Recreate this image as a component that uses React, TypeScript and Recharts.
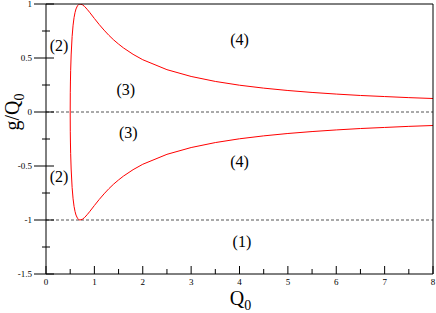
import React from "react";
import { LineChart, Line, XAxis, YAxis, ReferenceLine, ReferenceDot, Label } from "recharts";

// Q0 samples along the red boundary curve
const qValues = [
  0.5, 0.502, 0.505, 0.51, 0.52, 0.54, 0.56, 0.58, 0.6, 0.62, 0.65, 0.68, 0.7, 0.75, 0.8, 0.85, 0.9, 1,
  1.1, 1.2, 1.3, 1.4, 1.5, 1.6, 1.8, 2, 2.5, 3, 3.5, 4, 4.5, 5, 5.5, 6, 6.5, 7, 7.5, 8,
];
// upper branch g/Q0
const gUpper = [
  0, 0.178, 0.278, 0.386, 0.528, 0.699, 0.804, 0.874, 0.921, 0.954, 0.983, 0.997, 1.0, 0.994, 0.976, 0.951,
  0.924, 0.866, 0.81, 0.758, 0.71, 0.667, 0.629, 0.594, 0.534, 0.484, 0.392, 0.329, 0.283, 0.248, 0.221,
  0.199, 0.181, 0.166, 0.153, 0.143, 0.133, 0.125,
];
// lower branch g/Q0
const gLower = [
  0, -0.178, -0.278, -0.386, -0.528, -0.699, -0.804, -0.874, -0.921, -0.954, -0.983, -0.997, -1.0, -0.994,
  -0.976, -0.951, -0.924, -0.866, -0.81, -0.758, -0.71, -0.667, -0.629, -0.594, -0.534, -0.484, -0.392,
  -0.329, -0.283, -0.248, -0.221, -0.199, -0.181, -0.166, -0.153, -0.143, -0.133, -0.125,
];

const xTicks = [0, 0.5, 1, 1.5, 2, 2.5, 3, 3.5, 4, 4.5, 5, 5.5, 6, 6.5, 7, 7.5, 8];
const yTicks = [-1.5, -1.25, -1, -0.75, -0.5, -0.25, 0, 0.25, 0.5, 0.75, 1];
const dashedLevels = [0, -1];

const regionLabels = [
  { text: "(2)", q: 0.27, g: 0.62 },
  { text: "(2)", q: 0.27, g: -0.6 },
  { text: "(3)", q: 1.65, g: 0.21 },
  { text: "(3)", q: 1.7, g: -0.19 },
  { text: "(4)", q: 4.0, g: 0.67 },
  { text: "(4)", q: 4.0, g: -0.46 },
  { text: "(1)", q: 4.05, g: -1.2 },
];

const FONT = '"Liberation Serif", "DejaVu Serif", serif';
const txt = { fontFamily: FONT };

const curve = [
  ...qValues.map((q, i) => ({ q, g: gUpper[i] })).reverse(),
  ...qValues.map((q, i) => ({ q, g: gLower[i] })),
];

const LeftTick = (props: any) => {
  const { x, y, payload } = props;
  const v = payload.value;
  const major = Number.isInteger(v * 2);
  return (
    <g>
      <line x1={x - (major ? 12 : 4)} x2={x + (major ? 8 : 4)} y1={y} y2={y} stroke="#000" />
      {major && (
        <text x={x - 14} y={y + 3} textAnchor="end" fontSize={9} style={txt} fill="#000">
          {v}
        </text>
      )}
    </g>
  );
};

const BottomTick = (props: any) => {
  const { x, y, payload } = props;
  const v = payload.value;
  const major = Number.isInteger(v);
  return (
    <g>
      <line x1={x} x2={x} y1={y} y2={y - (major ? 8 : 5)} stroke="#000" />
      {major && (
        <text x={x} y={y + 11} textAnchor="middle" fontSize={9} style={txt} fill="#000">
          {v}
        </text>
      )}
    </g>
  );
};

const TopTick = (props: any) => {
  const { x, y, payload } = props;
  const major = Number.isInteger(payload.value);
  return <line x1={x} x2={x} y1={y} y2={y + (major ? 8 : 5)} stroke="#000" />;
};

const YTitle = (props: any) => {
  const { x, y, height } = props.viewBox;
  const cx = x + 19;
  const cy = y + height / 2 - 27;
  return (
    <text transform={`rotate(-90 ${cx} ${cy})`} x={cx} y={cy} textAnchor="middle" fontSize={20} style={txt} fill="#000">
      g/Q<tspan fontSize={14} dy={5}>0</tspan>
    </text>
  );
};

const XTitle = (props: any) => {
  const { x, y, width } = props.viewBox;
  return (
    <text x={x + width / 2 + 1} y={y + 31} textAnchor="middle" fontSize={20} style={txt} fill="#000">
      Q<tspan fontSize={14} dy={5}>0</tspan>
    </text>
  );
};

export default function App() {
  return (
    <div style={{ position: "absolute", left: 0, top: 0, width: 436, height: 313, background: "#fff" }}>
      <LineChart width={436} height={313} margin={{ top: 0, right: 0, bottom: 0, left: 0 }}>
        <XAxis
          xAxisId="bottom"
          dataKey="q"
          type="number"
          domain={[0, 8]}
          ticks={xTicks}
          interval={0}
          height={39}
          tickSize={0}
          tickMargin={0}
          tickLine={false}
          tick={<BottomTick />}
          axisLine={{ stroke: "#000" }}
          allowDataOverflow
        >
          <Label content={<XTitle />} />
        </XAxis>
        <XAxis
          xAxisId="top"
          orientation="top"
          type="number"
          domain={[0, 8]}
          ticks={xTicks}
          interval={0}
          height={4}
          tickSize={0}
          tickMargin={0}
          tickLine={false}
          tick={<TopTick />}
          axisLine={{ stroke: "#000" }}
          allowDataOverflow
        />
        <YAxis
          yAxisId="left"
          type="number"
          domain={[-1.5, 1]}
          ticks={yTicks}
          interval={0}
          width={46}
          tickSize={0}
          tickMargin={0}
          tickLine={false}
          tick={<LeftTick />}
          axisLine={{ stroke: "#000" }}
          allowDataOverflow
        >
          <Label content={<YTitle />} />
        </YAxis>
        <YAxis
          yAxisId="right"
          orientation="right"
          type="number"
          domain={[-1.5, 1]}
          width={3}
          tick={false}
          tickLine={false}
          axisLine={{ stroke: "#000" }}
        />
        {dashedLevels.map((lv) => (
          <ReferenceLine
            key={lv}
            y={lv}
            xAxisId="bottom"
            yAxisId="left"
            stroke="#555"
            strokeDasharray="3 2"
          />
        ))}
        <Line
          data={curve}
          dataKey="g"
          xAxisId="bottom"
          yAxisId="left"
          type="linear"
          stroke="#ff0000"
          strokeWidth={1}
          dot={false}
          isAnimationActive={false}
        />
        {regionLabels.map((l, i) => (
          <ReferenceDot
            key={i}
            x={l.q}
            y={l.g}
            xAxisId="bottom"
            yAxisId="left"
            r={0}
            shape={(p: any) => (
              <text x={p.cx} y={p.cy} textAnchor="middle" dominantBaseline="central" fontSize={16} style={txt} fill="#000">
                {l.text}
              </text>
            )}
          />
        ))}
      </LineChart>
    </div>
  );
}
